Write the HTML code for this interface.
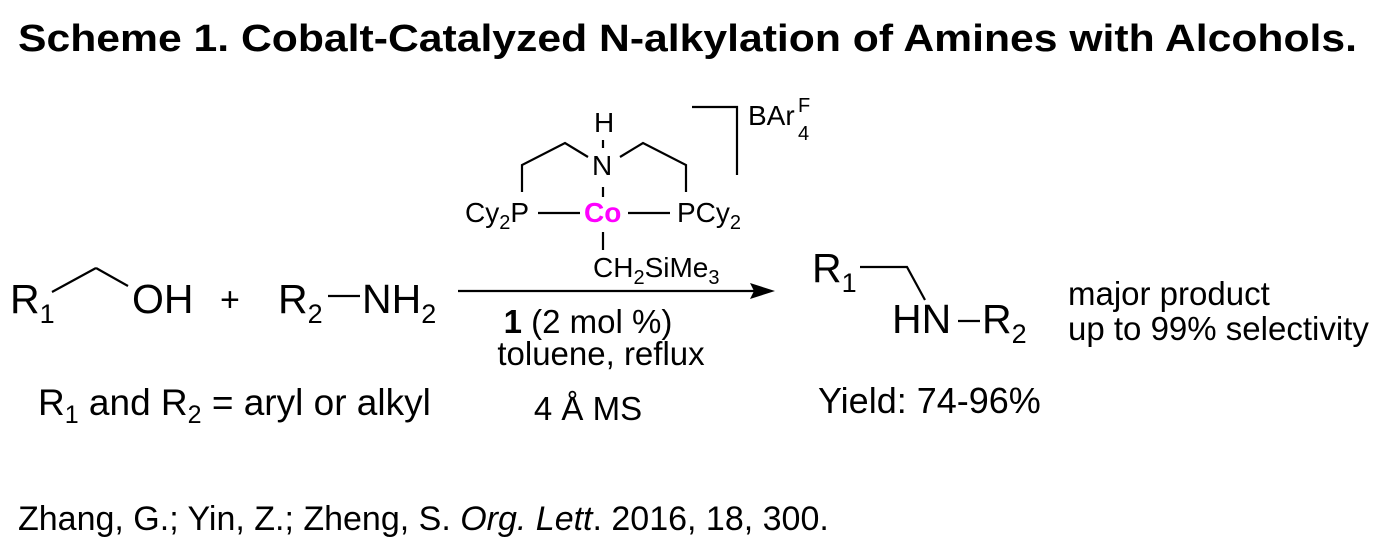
<!DOCTYPE html>
<html><head><meta charset="utf-8"><style>
html,body{margin:0;padding:0;background:#fff;}
svg{display:block;font-family:"Liberation Sans",Arial,sans-serif;}
</style></head><body>
<svg width="1382" height="552" viewBox="0 0 1382 552" xmlns="http://www.w3.org/2000/svg">
<text x="18" y="51" font-size="38" font-weight="bold" textLength="1339" lengthAdjust="spacingAndGlyphs">Scheme 1. Cobalt-Catalyzed N-alkylation of Amines with Alcohols.</text>

<g stroke="#000" stroke-width="2.2" fill="none">
<line x1="52" y1="292" x2="96" y2="268"/><line x1="96" y1="268" x2="128" y2="286"/>
<line x1="328" y1="296" x2="360" y2="296"/>
<line x1="538" y1="213" x2="580" y2="213"/><line x1="628" y1="213" x2="670" y2="213"/>
<line x1="603" y1="232" x2="603" y2="250"/>
<line x1="603" y1="140" x2="603" y2="148"/>
<line x1="603" y1="187" x2="603" y2="197"/>
<polyline points="522,192 522,165 565,143 588,157"/>
<polyline points="620,157 643,143 686,165 686,192"/>
<polyline points="692,107 737,107 737,175"/>
<line x1="458" y1="291" x2="755" y2="291"/>
<polyline points="860,267 907,267 925,300"/>
<line x1="958" y1="321" x2="980" y2="321"/>
</g>
<polygon points="775,291 750,283 754,291 750,299" fill="#000"/>

<g font-size="41">
<text x="10" y="313">R<tspan font-size="27" dy="10">1</tspan></text>
<text x="132" y="313">OH</text>
<text x="220" y="311" font-size="34">+</text>
<text x="278" y="313">R<tspan font-size="27" dy="10">2</tspan></text>
<text x="362" y="313">NH<tspan font-size="27" dy="10">2</tspan></text>
<text x="812" y="282">R<tspan font-size="27" dy="10">1</tspan></text>
<text x="892" y="333">HN</text>
<text x="982" y="333">R<tspan font-size="27" dy="10">2</tspan></text>
</g>

<g font-size="28">
<text x="594" y="132">H</text>
<text x="592" y="175">N</text>
<text x="465" y="222">Cy<tspan font-size="20" dy="7">2</tspan><tspan dy="-7">P</tspan></text>
<text x="584" y="222" fill="#ff00ff" font-weight="bold">Co</text>
<text x="677" y="222">PCy<tspan font-size="20" dy="7">2</tspan></text>
<text x="593" y="277">CH<tspan font-size="20" dy="7">2</tspan><tspan dy="-7">SiMe</tspan><tspan font-size="20" dy="7">3</tspan></text>
<text x="748" y="125">BAr</text>
<text x="798" y="112" font-size="20">F</text>
<text x="798" y="140" font-size="20">4</text>
</g>

<g font-size="33">
<text x="588" y="333" text-anchor="middle"><tspan font-weight="bold">1</tspan> (2 mol %)</text>
<text x="601" y="365" text-anchor="middle">toluene, reflux</text>
<text x="588" y="420" text-anchor="middle">4 Å MS</text>
<text x="1068" y="305">major product</text>
<text x="1068" y="340">up to 99% selectivity</text>
</g>
<g font-size="37">
<text x="38" y="415">R<tspan font-size="25" dy="8">1</tspan><tspan dy="-8"> and R</tspan><tspan font-size="25" dy="8">2</tspan><tspan dy="-8"> = aryl or alkyl</tspan></text>
<text x="818" y="413" font-size="36">Yield: 74-96%</text>
</g>
<text x="18" y="530" font-size="34">Zhang, G.; Yin, Z.; Zheng, S. <tspan font-style="italic">Org. Lett</tspan>. 2016, 18, 300.</text>
</svg>
</body></html>
